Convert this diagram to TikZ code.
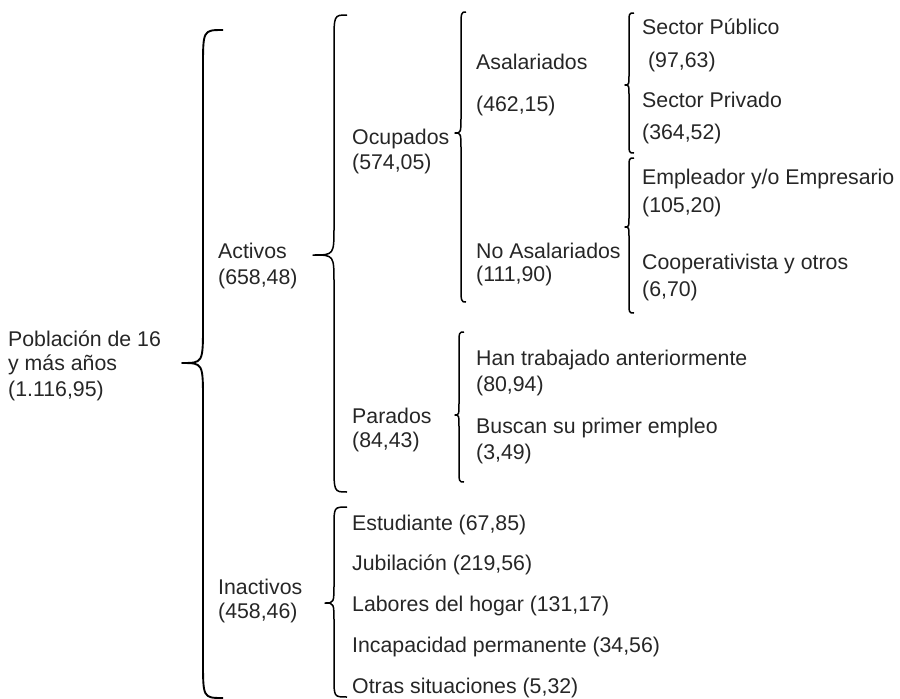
\documentclass[tikz,border=0pt]{standalone}
\usepackage{fontspec}
\setmainfont{Liberation Sans}
\definecolor{txt}{HTML}{262626}
\newcommand\bracepath[8]{%
  % #1 style, #2 xtip, #3 xmid, #4 xend, #5 ytop, #6 ytip, #7 ybot, #8 curl
  \draw[#1] (#4,#5) .. controls (#3,#5) .. (#3,{#5+#8})
    -- (#3,{#6-#8}) .. controls (#3,#6) .. (#2,#6)
    .. controls (#3,#6) .. (#3,{#6+#8})
    -- (#3,{#7-#8}) .. controls (#3,#7) .. (#4,#7);}
\begin{document}
\begin{tikzpicture}[x=1pt,y=-1pt,
  bracestyle/.style={line width=1.5pt, draw=black, line join=round},
  bigbrace/.style={line width=1.9pt, draw=black, line join=round},
  lbl/.style={anchor=west, inner sep=0pt, text=txt, font=\fontsize{21.3}{25}\selectfont}]
\useasboundingbox (0,0) rectangle (900,699);
% braces
\bracepath{bigbrace}{182}{203}{223}{30}{363}{698}{38}
\bracepath{bracestyle}{313}{334}{347}{15}{255}{492}{28}
\bracepath{bracestyle}{455}{461}{466}{12}{133}{302}{18}
\bracepath{bracestyle}{625}{629}{634}{13}{85}{153}{12}
\bracepath{bracestyle}{625}{629}{634}{158}{227}{313}{12}
\bracepath{bracestyle}{455}{459}{464}{332}{415}{482}{14}
\bracepath{bracestyle}{325}{334}{347}{507}{603}{697}{20}
% labels
\node[lbl] (p1) at (8,339) {Población de 16};
\node[lbl] (p2) at (8,365) {y más años};
\node[lbl] (p3) at (8,391) {(1.116,95)};
\node[lbl] (a1) at (218,251) {Activos};
\node[lbl] (a2) at (218,279) {(658,48)};
\node[lbl] (i1) at (218,587) {Inactivos};
\node[lbl] (i2) at (218,613) {(458,46)};
\node[lbl] (o1) at (352,139) {Ocupados};
\node[lbl] (o2) at (352,164) {(574,05)};
\node[lbl] (pa1) at (352,416) {Parados};
\node[lbl] (pa2) at (352,442) {(84,43)};
\node[lbl] (as1) at (476,62) {Asalariados};
\node[lbl] (as2) at (476,106) {(462,15)};
\node[lbl] (na1) at (476,251) {No Asalariados};
\node[lbl] (na2) at (476,276) {(111,90)};
\node[lbl] (s1) at (642,27) {Sector Público};
\node[lbl] (s2) at (642,62) {\ (97,63)};
\node[lbl] (s3) at (642,100) {Sector Privado};
\node[lbl] (s4) at (642,134) {(364,52)};
\node[lbl] (e1) at (642,179) {Empleador y/o Empresario};
\node[lbl] (e2) at (642,207) {(105,20)};
\node[lbl] (c1) at (642,264) {Cooperativista y otros};
\node[lbl] (c2) at (642,291) {(6,70)};
\node[lbl] (h1) at (476,360) {Han trabajado anteriormente};
\node[lbl] (h2) at (476,386) {(80,94)};
\node[lbl] (b1) at (476,428) {Buscan su primer empleo};
\node[lbl] (b2) at (476,454) {(3,49)};
\node[lbl] (in1) at (352,525) {Estudiante (67,85)};
\node[lbl] (in2) at (352,565) {Jubilación (219,56)};
\node[lbl] (in3) at (352,606) {Labores del hogar (131,17)};
\node[lbl] (in4) at (352,647) {Incapacidad permanente (34,56)};
\node[lbl] (in5) at (352,688) {Otras situaciones (5,32)};
\end{tikzpicture}
\end{document}
